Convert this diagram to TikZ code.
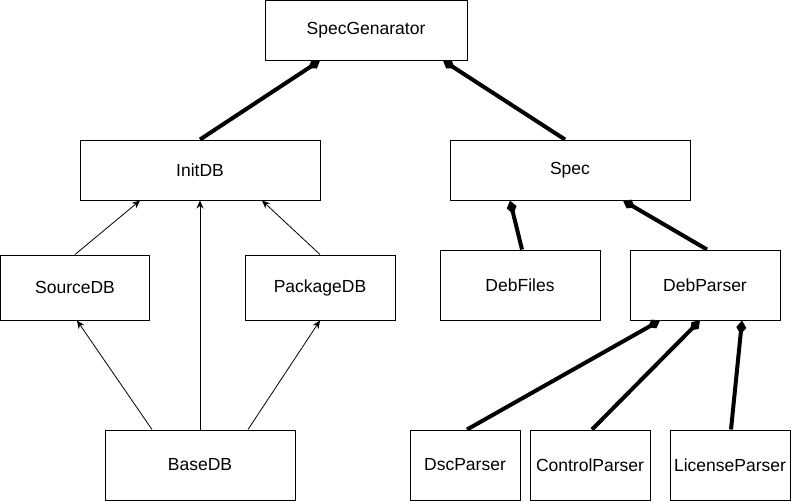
\documentclass[tikz,border=0pt]{standalone}
\usepackage{fontspec}
\setmainfont{Liberation Sans}
\usetikzlibrary{arrows.meta}

\begin{document}
\begin{tikzpicture}[x=1pt, y=-1pt,
    box/.style={draw, line width=1pt, inner sep=0pt, font=\fontsize{17.5}{20}\selectfont},
    comp/.style={-{Diamond[length=14pt, width=10pt]}, line width=4pt},
    dep/.style={-{Stealth[length=8pt, width=7pt]}, line width=0.8pt}]
    \useasboundingbox (0,0) rectangle (791,501);

    % classes
    \node[box, minimum width=202pt, minimum height=60pt] (gen) at (366,30) {SpecGenarator};
    \node[box, minimum width=240pt, minimum height=60pt] (initdb) at (200,170) {InitDB};
    \node[box, minimum width=240pt, minimum height=60pt] (spec) at (570,170) {Spec};
    \node[box, minimum width=149pt, minimum height=65pt] (sourcedb) at (75,287.5) {SourceDB};
    \node[box, minimum width=150pt, minimum height=65pt] (packagedb) at (320,287.5) {PackageDB};
    \node[box, minimum width=160pt, minimum height=70pt] (debfiles) at (520,285) {DebFiles};
    \node[box, minimum width=150pt, minimum height=70pt] (debparser) at (705,285) {DebParser};
    \node[box, minimum width=190pt, minimum height=70pt] (basedb) at (200,465) {BaseDB};
    \node[box, minimum width=110pt, minimum height=70pt] (dscparser) at (465,465) {DscParser};
    \node[box, minimum width=120pt, minimum height=70pt] (controlparser) at (590,465) {ControlParser};
    \node[box, minimum width=120pt, minimum height=70pt] (licenseparser) at (730,465) {LicenseParser};

    % composition
    \draw[comp] (initdb.north) -- ([xshift=-46pt]gen.south);
    \draw[comp] ([xshift=-5pt]spec.north) -- ([xshift=77pt]gen.south);
    \draw[comp] ([xshift=2pt]debfiles.north) -- ([xshift=-60pt]spec.south);
    \draw[comp] ([xshift=2pt]debparser.north) -- ([xshift=53pt]spec.south);
    \draw[comp] ([xshift=2pt]dscparser.north) -- ([xshift=-45pt]debparser.south);
    \draw[comp] ([xshift=2pt]controlparser.north) -- ([xshift=-5pt]debparser.south);
    \draw[comp] ([xshift=1pt]licenseparser.north) -- ([xshift=37pt]debparser.south);

    % inheritance
    \draw[dep] (sourcedb.north) -- ([xshift=-60pt]initdb.south);
    \draw[dep] (basedb.north) -- (initdb.south);
    \draw[dep] (packagedb.north) -- ([xshift=62pt]initdb.south);
    \draw[dep] ([xshift=-48pt]basedb.north) -- ([xshift=2pt]sourcedb.south);
    \draw[dep] ([xshift=48pt]basedb.north) -- (packagedb.south);
  \end{tikzpicture}
\end{document}
